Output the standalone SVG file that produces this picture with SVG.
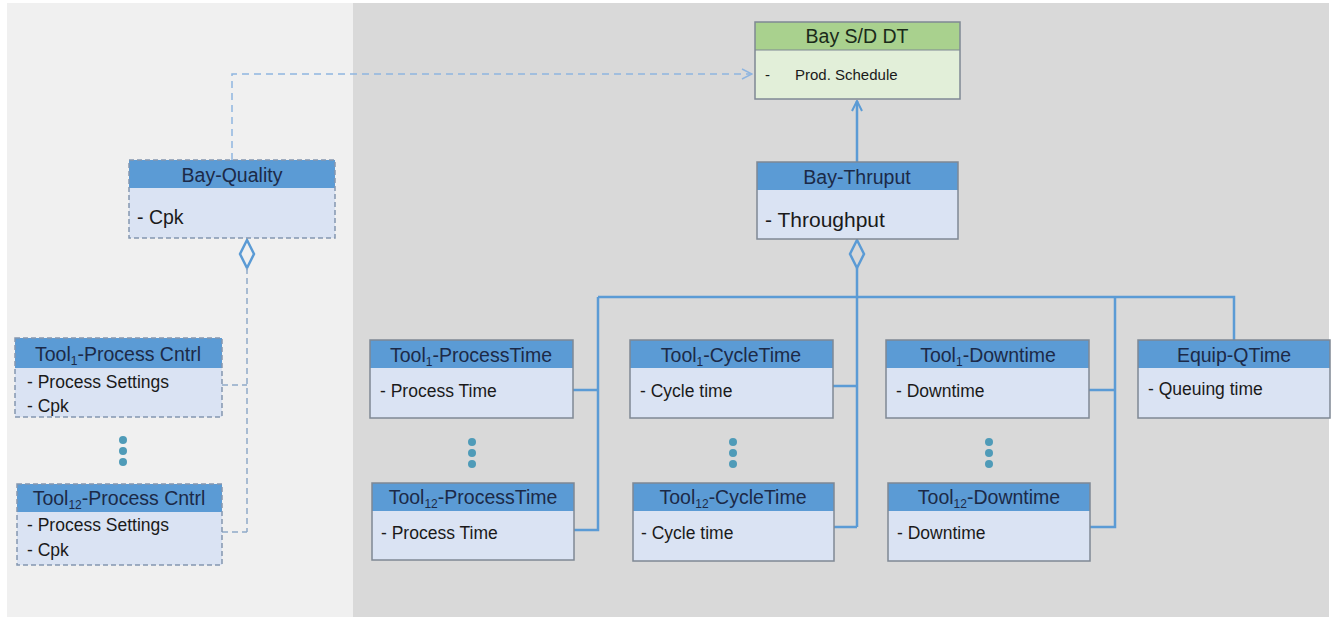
<svg xmlns="http://www.w3.org/2000/svg" width="1341" height="621" viewBox="0 0 1341 621">
<style>
.hdr{fill:#5b9bd5;}
.body{fill:#dae3f3;}
.frame{fill:none;stroke:#7f8894;stroke-width:1.5;}
.dframe{fill:none;stroke:#8497b0;stroke-width:1.5;stroke-dasharray:5 3;}
.ht{font-family:"Liberation Sans",Arial,sans-serif;font-size:19.5px;fill:#1c2a48;text-anchor:middle;}
.bt{font-family:"Liberation Sans",Arial,sans-serif;font-size:17.5px;fill:#1a1a1a;}
.sm{font-family:"Liberation Sans",Arial,sans-serif;font-size:15px;fill:#1a1a1a;}
.sub{font-size:12px;}
.solid{fill:none;stroke:#5b9bd5;stroke-width:2.5;}
.dash{fill:none;stroke:#8ea9c8;stroke-width:1.5;stroke-dasharray:6 4;}
.dasharrow{fill:none;stroke:#8fb5e0;stroke-width:1.5;stroke-dasharray:7 5;}
.dot{fill:#4f9bb8;}
</style>
<defs>
<marker id="openL" viewBox="0 0 12 12" refX="11" refY="6" markerWidth="12" markerHeight="12" markerUnits="userSpaceOnUse" orient="auto">
<path d="M1,1 L11,6 L1,11" fill="none" stroke="#8fb5e0" stroke-width="1.5"/>
</marker>
<marker id="openS" viewBox="0 0 12 12" refX="11" refY="6" markerWidth="12" markerHeight="12" markerUnits="userSpaceOnUse" orient="auto">
<path d="M1,1 L11,6 L1,11" fill="none" stroke="#5b9bd5" stroke-width="2"/>
</marker>
</defs>
<rect x="0" y="0" width="1341" height="621" fill="#ffffff"/>
<rect x="7" y="3" width="346" height="614" fill="#f0f0f0"/>
<rect x="353" y="3" width="976" height="614" fill="#d9d9d9"/>

<g id="connectors">
<path class="dasharrow" d="M232,160 V74 H752" marker-end="url(#openL)"/>
<path class="solid" d="M857,162 V101" marker-end="url(#openS)"/>
<path d="M247,240 L254,254 L247,268 L240,254 Z" fill="#f0f0f0" stroke="#5b9bd5" stroke-width="2.5"/>
<path class="dash" d="M247,268 V532"/>
<path class="dash" d="M222,385 H247"/>
<path class="dash" d="M222,532 H247"/>
<path d="M857,240 L864,254 L857,268 L850,254 Z" fill="#d9d9d9" stroke="#5b9bd5" stroke-width="2.5"/>
<path class="solid" d="M857,268 V527"/>
<path class="solid" d="M598,297 H1234 V340"/>
<path class="solid" d="M598,297 V530 H574"/>
<path class="solid" d="M573,390 H598"/>
<path class="solid" d="M833,386 H857"/>
<path class="solid" d="M834,527 H857"/>
<path class="solid" d="M1115,297 V527 H1090"/>
<path class="solid" d="M1089,390 H1115"/>
</g>

<g id="bay-sd-dt">
<rect x="755" y="22" width="205" height="28" fill="#a9d18e"/>
<rect x="755" y="50" width="205" height="49" fill="#e2efd9"/>
<rect x="755" y="22" width="205" height="77" class="frame"/>
<line x1="755" y1="50" x2="960" y2="50" stroke="#7f8894" stroke-width="1"/>
<text x="857" y="43" class="ht" style="fill:#1a2a1a">Bay S/D DT</text>
<text x="765" y="80" class="sm">-</text>
<text x="795" y="80" class="sm">Prod. Schedule</text>
</g>

<g id="bay-quality">
<rect x="129" y="160" width="206" height="28" class="hdr"/>
<rect x="129" y="188" width="206" height="50" class="body"/>
<rect x="129" y="160" width="206" height="78" class="dframe"/>
<text x="232" y="182" class="ht">Bay-Quality</text>
<text x="137" y="224" class="bt" style="font-size:19.5px">- Cpk</text>
</g>

<g id="tool1-process-cntrl">
<rect x="15" y="338" width="207" height="30" class="hdr"/>
<rect x="15" y="368" width="207" height="49" class="body"/>
<rect x="15" y="338" width="207" height="79" class="dframe"/>
<text x="118" y="361" class="ht">Tool<tspan class="sub" dy="4">1</tspan><tspan dy="-4">-Process Cntrl</tspan></text>
<text x="27" y="388" class="bt">- Process Settings</text>
<text x="27" y="412" class="bt">- Cpk</text>
</g>

<g id="dots-pc">
<circle cx="123" cy="440" r="4" class="dot"/>
<circle cx="123" cy="451" r="4" class="dot"/>
<circle cx="123" cy="462" r="4" class="dot"/>
</g>

<g id="tool12-process-cntrl">
<rect x="17" y="484" width="205" height="28" class="hdr"/>
<rect x="17" y="512" width="205" height="53" class="body"/>
<rect x="17" y="484" width="205" height="81" class="dframe"/>
<text x="119" y="505" class="ht">Tool<tspan class="sub" dy="4">12</tspan><tspan dy="-4">-Process Cntrl</tspan></text>
<text x="27" y="531" class="bt">- Process Settings</text>
<text x="27" y="556" class="bt">- Cpk</text>
</g>

<g id="bay-thruput">
<rect x="757" y="162" width="201" height="28" class="hdr"/>
<rect x="757" y="190" width="201" height="49" class="body"/>
<rect x="757" y="162" width="201" height="77" class="frame"/>
<text x="857" y="184" class="ht">Bay-Thruput</text>
<text x="765" y="227" class="bt" style="font-size:21px">- Throughput</text>
</g>

<g id="tool1-processtime">
<rect x="370" y="340" width="203" height="28" class="hdr"/>
<rect x="370" y="368" width="203" height="50" class="body"/>
<rect x="370" y="340" width="203" height="78" class="frame"/>
<text x="471" y="362" class="ht">Tool<tspan class="sub" dy="4">1</tspan><tspan dy="-4">-ProcessTime</tspan></text>
<text x="380" y="397" class="bt">- Process Time</text>
</g>

<g id="dots-pt">
<circle cx="472" cy="442" r="4" class="dot"/>
<circle cx="472" cy="453" r="4" class="dot"/>
<circle cx="472" cy="464" r="4" class="dot"/>
</g>

<g id="tool12-processtime">
<rect x="372" y="483" width="202" height="28" class="hdr"/>
<rect x="372" y="511" width="202" height="49" class="body"/>
<rect x="372" y="483" width="202" height="77" class="frame"/>
<text x="473" y="504" class="ht">Tool<tspan class="sub" dy="4">12</tspan><tspan dy="-4">-ProcessTime</tspan></text>
<text x="381" y="539" class="bt">- Process Time</text>
</g>

<g id="tool1-cycletime">
<rect x="630" y="340" width="203" height="28" class="hdr"/>
<rect x="630" y="368" width="203" height="50" class="body"/>
<rect x="630" y="340" width="203" height="78" class="frame"/>
<text x="731" y="362" class="ht">Tool<tspan class="sub" dy="4">1</tspan><tspan dy="-4">-CycleTime</tspan></text>
<text x="640" y="397" class="bt">- Cycle time</text>
</g>

<g id="dots-ct">
<circle cx="733" cy="442" r="4" class="dot"/>
<circle cx="733" cy="453" r="4" class="dot"/>
<circle cx="733" cy="464" r="4" class="dot"/>
</g>

<g id="tool12-cycletime">
<rect x="633" y="483" width="201" height="28" class="hdr"/>
<rect x="633" y="511" width="201" height="50" class="body"/>
<rect x="633" y="483" width="201" height="78" class="frame"/>
<text x="733" y="504" class="ht">Tool<tspan class="sub" dy="4">12</tspan><tspan dy="-4">-CycleTime</tspan></text>
<text x="641" y="539" class="bt">- Cycle time</text>
</g>

<g id="tool1-downtime">
<rect x="886" y="340" width="203" height="28" class="hdr"/>
<rect x="886" y="368" width="203" height="50" class="body"/>
<rect x="886" y="340" width="203" height="78" class="frame"/>
<text x="988" y="362" class="ht">Tool<tspan class="sub" dy="4">1</tspan><tspan dy="-4">-Downtime</tspan></text>
<text x="896" y="397" class="bt">- Downtime</text>
</g>

<g id="dots-dt">
<circle cx="989" cy="442" r="4" class="dot"/>
<circle cx="989" cy="453" r="4" class="dot"/>
<circle cx="989" cy="464" r="4" class="dot"/>
</g>

<g id="tool12-downtime">
<rect x="888" y="483" width="202" height="28" class="hdr"/>
<rect x="888" y="511" width="202" height="50" class="body"/>
<rect x="888" y="483" width="202" height="78" class="frame"/>
<text x="989" y="504" class="ht">Tool<tspan class="sub" dy="4">12</tspan><tspan dy="-4">-Downtime</tspan></text>
<text x="897" y="539" class="bt">- Downtime</text>
</g>

<g id="equip-qtime">
<rect x="1138" y="340" width="192" height="28" class="hdr"/>
<rect x="1138" y="368" width="192" height="50" class="body"/>
<rect x="1138" y="340" width="192" height="78" class="frame"/>
<text x="1234" y="362" class="ht">Equip-QTime</text>
<text x="1148" y="395" class="bt">- Queuing time</text>
</g>
</svg>
